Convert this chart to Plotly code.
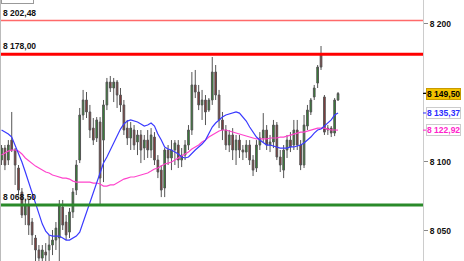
import plotly.graph_objects as go

# ---- data (prices) ----
opens = [8101.2, 8109.9, 8101.2, 8115.7, 8108.5, 8095.4, 8078.0, 8061.3, 8068.5, 8056.2,
         8044.6, 8035.9, 8030.0, 8034.4, 8035.9, 8039.5, 8043.1, 8044.6, 8067.1, 8056.2,
         8048.9, 8063.5, 8079.4, 8101.2, 8133.9, 8144.8, 8136.1, 8124.4, 8117.2, 8128.8,
         8115.7, 8141.2, 8157.8, 8153.5, 8157.8, 8148.4, 8141.2, 8124.4, 8117.2, 8123.0,
         8114.3, 8119.4, 8109.9, 8115.7, 8108.5, 8117.9, 8101.2, 8093.9, 8080.9, 8108.5,
         8102.7, 8108.5, 8112.1, 8101.2, 8104.8, 8112.1, 8123.0, 8155.7, 8150.6, 8141.2,
         8144.8, 8137.5, 8144.8, 8165.1, 8148.4, 8130.3, 8123.0, 8112.1, 8119.4, 8108.5,
         8115.7, 8108.5, 8107.0, 8112.1, 8101.2, 8095.4, 8112.1, 8117.2, 8123.0, 8112.1,
         8114.3, 8126.6, 8103.4, 8093.9, 8108.5, 8115.7, 8112.1, 8123.0, 8112.1, 8097.6,
         8125.9, 8136.1, 8147.0, 8157.1, 8177.5, 8147.0, 8124.4, 8124.4, 8120.8, 8144.8]
highs = [8112.1, 8112.1, 8115.7, 8136.1, 8109.9, 8097.6, 8080.9, 8072.2, 8072.2, 8059.1,
         8046.8, 8039.5, 8039.5, 8040.9, 8046.8, 8050.4, 8056.2, 8072.2, 8072.2, 8061.3,
         8066.4, 8080.9, 8101.2, 8139.0, 8152.1, 8150.6, 8141.2, 8131.7, 8132.4, 8132.4,
         8144.8, 8160.8, 8162.2, 8160.8, 8159.3, 8153.5, 8144.8, 8130.3, 8128.8, 8126.6,
         8123.0, 8123.0, 8119.4, 8123.0, 8124.4, 8121.5, 8104.8, 8097.6, 8109.9, 8112.1,
         8115.7, 8115.7, 8115.7, 8109.9, 8115.7, 8126.6, 8165.1, 8166.6, 8155.7, 8152.1,
         8148.4, 8146.2, 8176.0, 8170.2, 8152.1, 8136.1, 8126.6, 8123.0, 8124.4, 8119.4,
         8119.4, 8112.1, 8115.7, 8115.7, 8104.8, 8115.7, 8121.5, 8135.3, 8126.6, 8119.4,
         8130.3, 8128.8, 8108.5, 8112.1, 8119.4, 8121.5, 8130.3, 8130.3, 8115.7, 8133.9,
         8141.2, 8146.2, 8155.7, 8170.2, 8184.0, 8148.4, 8126.6, 8125.9, 8146.2, 8150.6]
lows = [8097.6, 8093.9, 8097.6, 8107.0, 8083.1, 8075.8, 8059.1, 8054.0, 8046.8, 8039.5,
        8027.1, 8021.3, 8022.8, 8021.3, 8027.1, 8032.2, 8035.9, 8017.7, 8050.4, 8043.1,
        8044.6, 8059.1, 8075.8, 8099.0, 8130.3, 8131.7, 8117.2, 8112.1, 8114.3, 8068.5,
        8085.2, 8137.5, 8150.6, 8143.3, 8139.0, 8136.1, 8119.4, 8112.1, 8108.5, 8108.5,
        8104.8, 8099.0, 8101.2, 8102.7, 8102.7, 8097.6, 8088.1, 8074.3, 8074.3, 8097.6,
        8093.9, 8097.6, 8095.4, 8096.1, 8101.2, 8108.5, 8119.4, 8146.2, 8137.5, 8130.3,
        8126.6, 8136.1, 8141.2, 8144.8, 8124.4, 8115.7, 8108.5, 8107.0, 8101.2, 8097.6,
        8102.7, 8101.2, 8102.7, 8097.6, 8089.6, 8092.5, 8108.5, 8114.3, 8108.5, 8107.0,
        8109.9, 8101.2, 8092.5, 8088.1, 8102.7, 8107.0, 8108.5, 8108.5, 8093.9, 8095.4,
        8123.0, 8133.9, 8144.8, 8153.5, 8166.6, 8119.4, 8119.4, 8117.9, 8118.6, 8144.1]
closes = [8109.9, 8097.6, 8112.1, 8108.5, 8097.6, 8079.4, 8061.3, 8068.5, 8054.0, 8046.8,
          8035.9, 8030.0, 8035.9, 8032.2, 8039.5, 8043.1, 8051.8, 8068.5, 8054.0, 8046.8,
          8063.5, 8078.0, 8097.6, 8133.9, 8144.8, 8136.1, 8123.0, 8115.7, 8130.3, 8088.1,
          8141.2, 8157.8, 8153.5, 8157.8, 8148.4, 8141.2, 8123.0, 8117.2, 8124.4, 8112.1,
          8119.4, 8108.5, 8115.7, 8108.5, 8119.4, 8101.2, 8092.5, 8079.4, 8108.5, 8102.7,
          8108.5, 8113.6, 8101.2, 8104.8, 8112.1, 8123.0, 8155.7, 8150.6, 8141.2, 8144.8,
          8136.1, 8144.8, 8165.1, 8148.4, 8130.3, 8123.0, 8112.1, 8119.4, 8108.5, 8115.7,
          8108.5, 8107.0, 8112.1, 8101.2, 8093.9, 8112.1, 8117.2, 8123.0, 8112.1, 8114.3,
          8126.6, 8103.4, 8097.6, 8108.5, 8115.7, 8110.7, 8123.0, 8112.1, 8097.6, 8126.6,
          8137.5, 8144.8, 8153.5, 8168.7, 8168.7, 8121.5, 8123.0, 8120.8, 8144.8, 8149.5]
ma_fast = [8123.0, 8121.5, 8120.1, 8117.9, 8112.1, 8106.3, 8099.8, 8092.5, 8085.2, 8078.0,
           8070.0, 8062.0, 8054.7, 8049.6, 8046.8, 8046.0, 8046.0, 8046.0, 8044.6, 8043.1,
           8043.1, 8044.6, 8046.0, 8048.9, 8056.2, 8063.5, 8070.7, 8078.0, 8085.2, 8092.5,
           8099.0, 8103.4, 8108.5, 8113.6, 8119.4, 8123.7, 8127.4, 8129.5, 8130.3, 8129.5,
           8128.8, 8127.4, 8125.9, 8126.6, 8128.1, 8125.9, 8120.1, 8115.7, 8110.7, 8109.2,
           8108.5, 8107.0, 8105.6, 8103.4, 8102.7, 8103.4, 8106.3, 8108.5, 8110.7, 8112.8,
           8115.7, 8120.1, 8125.2, 8128.1, 8130.3, 8132.4, 8133.9, 8134.6, 8135.3, 8136.1,
           8135.3, 8132.4, 8129.5, 8125.2, 8121.5, 8117.9, 8115.7, 8113.6, 8112.1, 8112.1,
           8111.4, 8110.7, 8109.9, 8109.9, 8109.9, 8110.7, 8110.7, 8111.4, 8112.1, 8113.6,
           8115.7, 8117.9, 8120.8, 8123.0, 8123.7, 8125.9, 8127.4, 8130.3, 8133.9, 8135.37]
ma_slow = [8104.8, 8106.3, 8107.7, 8108.5, 8108.5, 8107.7, 8105.6, 8102.7, 8100.5, 8098.3,
           8096.8, 8095.4, 8093.9, 8092.5, 8091.8, 8090.3, 8089.6, 8088.9, 8088.1, 8088.1,
           8087.4, 8085.9, 8085.2, 8085.2, 8085.2, 8085.2, 8085.2, 8084.5, 8084.5, 8083.8,
           8082.3, 8082.3, 8083.1, 8083.1, 8084.5, 8085.9, 8087.4, 8088.1, 8088.9, 8088.9,
           8089.6, 8090.3, 8091.0, 8091.8, 8093.2, 8094.7, 8095.4, 8096.8, 8098.3, 8099.0,
           8099.8, 8101.2, 8102.7, 8104.1, 8105.6, 8107.0, 8109.2, 8110.7, 8112.1, 8114.3,
           8115.7, 8117.9, 8119.4, 8120.8, 8122.3, 8123.0, 8123.0, 8122.3, 8121.5, 8120.8,
           8120.1, 8119.4, 8118.6, 8117.9, 8117.2, 8116.5, 8116.5, 8116.5, 8116.5, 8117.2,
           8117.2, 8117.2, 8117.9, 8117.9, 8118.6, 8119.4, 8120.1, 8120.8, 8121.5, 8121.5,
           8122.3, 8123.0, 8123.7, 8124.4, 8124.4, 8124.4, 8123.7, 8123.0, 8123.0, 8122.92]
level_lines = [8202.48, 8178.00, 8068.50]
level_labels = ["8 202,48", "8 178,00", "8 068,50"]
tick_values = [8050, 8100, 8200]
tick_labels = ["8 050", "8 100", "8 200"]

idx = list(range(len(closes)))
FONT = "Liberation Sans"
FS = 8.5

fig = go.Figure()
fig.add_trace(go.Candlestick(
    x=idx, open=opens, high=highs, low=lows, close=closes,
    increasing=dict(fillcolor="#2f8a2f", line=dict(color="#555555", width=1)),
    decreasing=dict(fillcolor="#8a3636", line=dict(color="#555555", width=1)),
    whiskerwidth=0, showlegend=False, hoverinfo="skip"))
fig.add_trace(go.Scatter(x=idx, y=ma_slow, mode="lines",
                         line=dict(color="#ff44cc", width=1.2), showlegend=False, hoverinfo="skip"))
fig.add_trace(go.Scatter(x=idx, y=ma_fast, mode="lines",
                         line=dict(color="#3a3aff", width=1.2), showlegend=False, hoverinfo="skip"))

line_styles = [dict(color="#ff6a6a", width=1.5), dict(color="#ff0000", width=3), dict(color="#2a8a2a", width=3)]
shapes = []
annotations = []
for val, lab, st in zip(level_lines, level_labels, line_styles):
    shapes.append(dict(type="line", xref="paper", x0=0, x1=1, yref="y", y0=val, y1=val, line=st, layer="above"))
    annotations.append(dict(x=0, xref="paper", xanchor="left", xshift=1, y=val, yref="y", yanchor="bottom",
                            yshift=1, text="<b>" + lab + "</b>", showarrow=False,
                            font=dict(family=FONT, size=FS, color="#111111")))
# left border
shapes.append(dict(type="line", xref="paper", x0=0, x1=0, yref="paper", y0=0, y1=1,
                   line=dict(color="#bbbbbb", width=2)))
# tick mark at 8150 (its label is hidden behind the last-price box)
shapes.append(dict(type="line", xref="paper", x0=1, x1=1.009, yref="y", y0=8150, y1=8150,
                   line=dict(color="#888888", width=1)))

# right side value labels
last_close = closes[-1]
last_fast = ma_fast[-1]
last_slow = ma_slow[-1]
def fmt(v):
    return f"{v:,.2f}".replace(",", " ").replace(".", ",")
right_labels = [
    (last_close, "#000000", "#f2c200", "#c89a00"),
    (last_fast, "#2b2bff", "#ffffff", "#cccccc"),
    (last_slow, "#ff22cc", "#ffffff", "#cccccc"),
]
for v, fc, bg, bc in right_labels:
    annotations.append(dict(x=1, xref="paper", xanchor="left", xshift=3, y=v, yref="y", yanchor="middle",
                            text="<b>" + fmt(v) + "</b>", showarrow=False, bgcolor=bg, bordercolor=bc,
                            borderwidth=1, borderpad=0,
                            font=dict(family=FONT, size=FS, color=fc)))
    shapes.append(dict(type="line", xref="paper", x0=1, x1=1.008, yref="y", y0=v, y1=v,
                       line=dict(color=fc, width=1)))

# legend stub at the top-left (cut by the page edge)
annotations.append(dict(x=0, xref="paper", xanchor="left", xshift=1, y=1, yref="paper", yanchor="bottom",
                        yshift=-4, text="<span style='color:#e05050'>■</span><span style='color:#3a9a3a'>■</span> <b>Prix</b>",
                        showarrow=False, bgcolor="#ffffff", bordercolor="#999999", borderwidth=1, borderpad=1,
                        font=dict(family=FONT, size=FS, color="#111111")))

fig.update_layout(
    width=464, height=261,
    margin=dict(l=0, r=41, t=0, b=0),
    paper_bgcolor="white", plot_bgcolor="white",
    shapes=shapes, annotations=annotations,
    xaxis=dict(visible=False, range=[-0.45, 124], rangeslider=dict(visible=False)),
    yaxis=dict(side="right", range=[8027.9, 8217.4], tickvals=tick_values, ticktext=["<b>" + t + "</b>" for t in tick_labels],
               ticks="outside", ticklen=4, tickcolor="#888888", showgrid=False, zeroline=False,
               showline=True, linecolor="#cccccc", linewidth=1,
               tickfont=dict(family=FONT, size=FS, color="#111111")),
)
fig.write_html("out.html")
